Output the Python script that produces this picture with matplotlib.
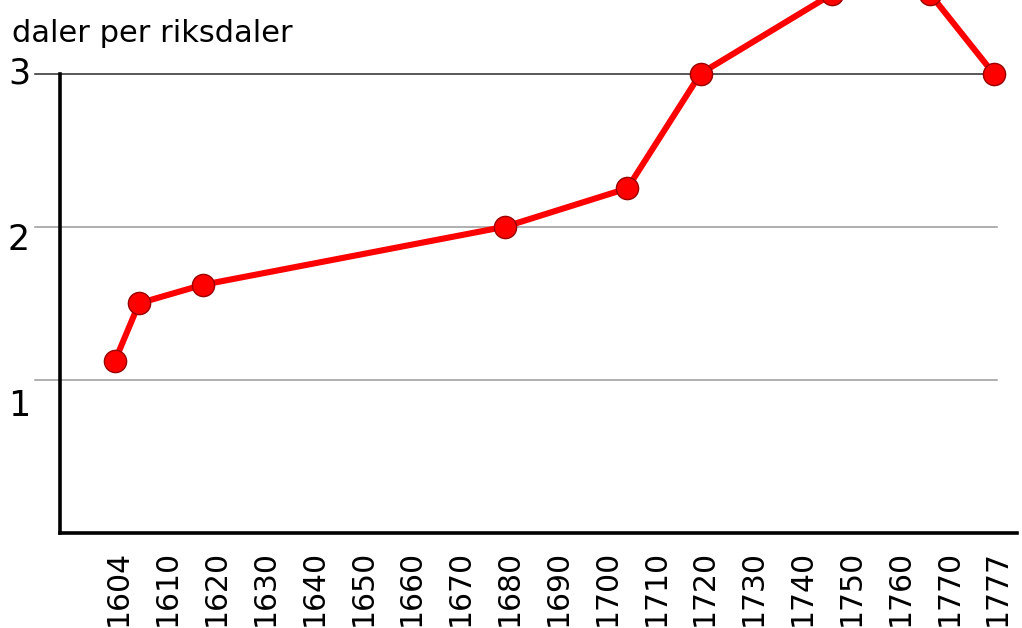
import numpy as np
import matplotlib
matplotlib.use("Agg")
import matplotlib.pyplot as plt
from matplotlib.transforms import offset_copy

# ---- data ----
tick_years = [1604, 1610, 1620, 1630, 1640, 1650, 1660, 1670, 1680, 1690,
              1700, 1710, 1720, 1730, 1740, 1750, 1760, 1770, 1777]
point_years = [1604, 1607, 1618, 1680, 1705, 1720, 1747, 1767, 1777]
daler_per_riksdaler = [1.12, 1.5, 1.62, 2.0, 2.25, 3.0, 3.52, 3.52, 3.0]
y_ticks = [1, 2, 3]
y_label = "daler per riksdaler"

plt.rcParams['font.family'] = ['DejaVu Sans']

W, H = 1022, 628
fig = plt.figure(figsize=(W / 100, H / 100), dpi=100)
ax_left, ax_right, ax_bottom = 60, 1017, 533
ax = fig.add_axes([ax_left / W, (H - ax_bottom) / H, (ax_right - ax_left) / W, ax_bottom / H])

# category-like scale: each tick year at an equally spaced slot
tick_pos = np.arange(len(tick_years))
x_pos = np.interp(point_years, tick_years, tick_pos)

ax.plot(x_pos, daler_per_riksdaler, color='#ff0000', lw=4.4, zorder=3,
        marker='o', markersize=16, markerfacecolor='#ff0000',
        markeredgecolor='#9a0000', markeredgewidth=1.0)

ax.set_xlim(-1.12, 18.48)
ax.set_ylim(0, 3.48)

# gridlines
for v in y_ticks:
    col = '#2a2a2a' if v == 3 else '#9a9a9a'
    ax.axhline(v, xmin=(35 - ax_left) / (ax_right - ax_left),
               xmax=(997 - ax_left) / (ax_right - ax_left),
               color=col, lw=1.1, zorder=1, clip_on=False)

# spines
for s in ['top', 'right']:
    ax.spines[s].set_visible(False)
ax.spines['left'].set_linewidth(2.6)
ax.spines['bottom'].set_linewidth(2.6)
ax.spines['left'].set_bounds(0, 3)
ax.spines['left'].set_zorder(2)

ax.set_xticks(tick_pos)
ax.set_xticklabels([str(y) for y in tick_years], rotation=90, fontsize=21.5,
                   va='top', ha='center')
ax.tick_params(axis='x', length=0, pad=12)
for lbl in ax.get_xticklabels():
    lbl.set_transform(offset_copy(lbl.get_transform(), fig=fig, x=4, y=0, units='dots'))

ax.set_yticks([])
y_offsets = {1: -26, 2: -13, 3: 0}
for v in y_ticks:
    ax.annotate(str(v), xy=(8, v), xycoords=('figure pixels', 'data'),
                xytext=(0, y_offsets[v]), textcoords='offset pixels',
                ha='left', va='center', fontsize=25, annotation_clip=False)

fig.text(12 / W, 1 - 42 / H, y_label, fontsize=22, ha='left', va='baseline')

fig.savefig('out.png', dpi=100)
